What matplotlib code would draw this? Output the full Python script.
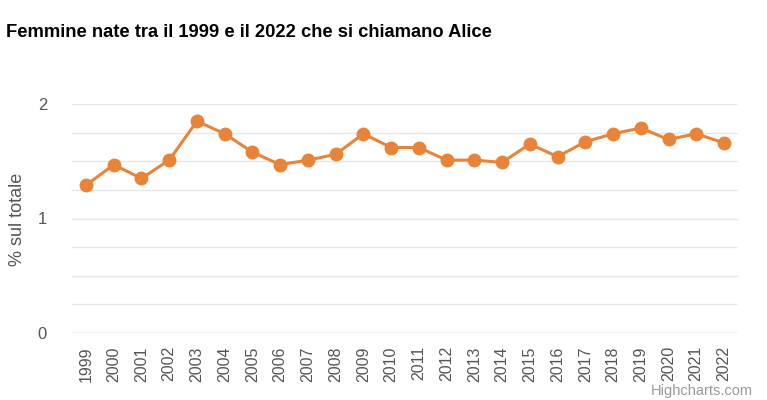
import numpy as np
import matplotlib.pyplot as plt

years = [str(y) for y in range(1999, 2023)]
alice_pct = [1.29, 1.47, 1.35, 1.51, 1.85, 1.74, 1.58, 1.47, 1.51, 1.56,
             1.74, 1.62, 1.62, 1.51, 1.51, 1.49, 1.65, 1.54, 1.67, 1.74,
             1.79, 1.69, 1.74, 1.66]
y_ticks = [0, 1, 2]
y_grid = [0.25, 0.5, 0.75, 1.25, 1.5, 1.75]

plt.rcParams['font.family'] = ['Liberation Sans', 'DejaVu Sans']

fig = plt.figure(figsize=(7.67, 4.0), dpi=100)
ax = fig.add_axes([0.094, 0.1675, 0.868, 0.5725])

x = np.arange(len(years))
ax.plot(x, alice_pct, color='#e8843a', linewidth=2.2, marker='o',
        markersize=9, clip_on=False, zorder=3)

ax.set_xlim(-0.5, len(years) - 0.5)
ax.set_ylim(0, 2)
ax.set_xticks(x)
ax.set_xticklabels(years, rotation=90, fontsize=11.5, color='#555555')
ax.set_yticks(y_ticks)
ax.set_yticklabels([str(t) for t in y_ticks], fontsize=12, color='#555555')
ax.tick_params(axis='x', length=0, pad=9.5)
ax.tick_params(axis='y', length=0, pad=18)

for v in y_ticks + y_grid:
    ax.axhline(v, color='#e6e6e6', linewidth=1, zorder=1)
ax.axhline(0, color='#ccd6eb', linewidth=1, zorder=2)

for s in ax.spines.values():
    s.set_visible(False)

# y-axis title placed in figure coords so it isn't clipped
fig.text(18 / 767, 1 - 219 / 400, '% sul totale', rotation=90, fontsize=13,
         color='#555555', ha='center', va='center')

fig.text(0.008, 0.918, 'Femmine nate tra il 1999 e il 2022 che si chiamano Alice',
         fontsize=13.2, fontweight='bold', color='black', va='center')
fig.text(0.982, 0.005, 'Highcharts.com', fontsize=10.5, color='#999999',
         ha='right', va='bottom')

fig.savefig('out.png', dpi=100)
